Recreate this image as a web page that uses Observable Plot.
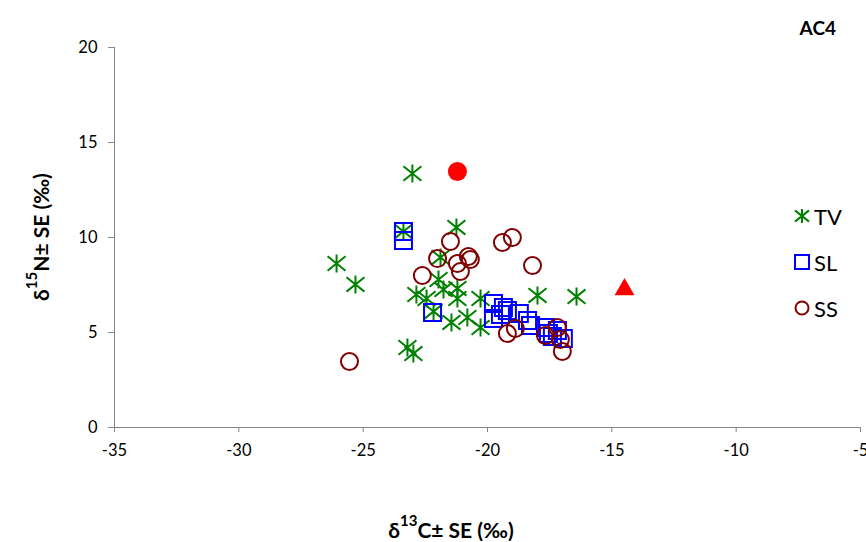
<!DOCTYPE html>
<html><head><meta charset="utf-8">
<script src="https://cdn.jsdelivr.net/npm/d3@7"></script>
<script src="https://cdn.jsdelivr.net/npm/@observablehq/plot@0.6"></script>
<style>body{margin:0;background:#fff}</style>
</head><body><div id="chart"></div>
<script>
// ---- data ----
const tvX = [-23.02,-23.38,-21.25,-26.07,-25.31,-21.89,-21.97,-21.77,-21.21,-22.86,-22.45,-21.21,-20.28,-22.17,-21.45,-20.81,-20.28,-17.99,-16.42,-23.22,-22.98];
const tvY = [13.37,10.32,10.53,8.63,7.53,8.95,7.79,7.26,7.32,7.0,6.79,6.79,6.79,6.11,5.53,5.79,5.26,6.95,6.89,4.21,3.89];
const slX = [-23.38,-23.38,-22.21,-19.76,-19.76,-19.36,-19.48,-19.2,-18.72,-18.39,-18.27,-17.67,-17.55,-17.39,-17.19,-16.95];
const slY = [10.32,9.84,6.05,6.53,5.74,6.32,5.95,6.16,6.0,5.63,5.37,5.26,4.95,4.79,5.11,4.68];
const ssX = [-25.55,-22.62,-22.01,-21.49,-21.21,-21.09,-20.77,-20.69,-19.4,-19.0,-18.19,-19.2,-18.88,-17.67,-17.19,-17.07,-16.99];
const ssY = [3.47,8.0,8.89,9.79,8.63,8.21,9.0,8.84,9.74,10.0,8.53,4.95,5.21,4.84,5.26,4.63,4.0];
const redCircleX = [-21.21], redCircleY = [13.47];
const redTriangleX = [-14.49], redTriangleY = [7.26];
const xTicks = [-35,-30,-25,-20,-15,-10,-5];
const yTicks = [0,5,10,15,20];
const seriesNames = ["TV","SL","SS"];
const title = "AC4";

const pts = (xs, ys) => xs.map((x, i) => ({x, y: ys[i]}));

const excelStar = {draw(ctx, size){
  const r = Math.sqrt(size / Math.PI);
  ctx.moveTo(0, -r); ctx.lineTo(0, r);
  ctx.moveTo(-r, -0.8*r); ctx.lineTo(r, 0.8*r);
  ctx.moveTo(-r, 0.8*r); ctx.lineTo(r, -0.8*r);
}};

const axisGray = "#868686";
const font = "Lato, 'Open Sans', sans-serif";
const plot = Plot.plot({
  width: 866, height: 542,
  marginLeft: 114, marginRight: 6, marginTop: 47, marginBottom: 115,
  style: {fontFamily: font, fontSize: "16px", background: "#fff"},
  x: {domain: [-35, -5], ticks: xTicks},
  y: {domain: [0, 20], ticks: yTicks},
  marks: [
    Plot.ruleY([0], {stroke: axisGray, strokeWidth: 1}),
    Plot.ruleX([-35], {stroke: axisGray, strokeWidth: 1}),
    Plot.axisX({ticks: xTicks, tickSize: 5, tickPadding: 12, tickFormat: d => String(d), stroke: axisGray, fill: "#000", label: null, fontSize: 16.5}),
    Plot.axisY({ticks: yTicks, tickSize: 6, tickPadding: 11, tickFormat: d => String(d), stroke: axisGray, fill: "#000", label: null, fontSize: 16.5}),
    Plot.dot(pts(tvX, tvY), {x: "x", y: "y", symbol: excelStar, r: 9, stroke: "#008000", strokeWidth: 2, fill: "none"}),
    Plot.dot(pts(slX, slY), {x: "x", y: "y", symbol: "square", r: 9.6, stroke: "#0000ff", strokeWidth: 2, fill: "none"}),
    Plot.dot(pts(ssX, ssY), {x: "x", y: "y", symbol: "circle", r: 8.5, stroke: "#800000", strokeWidth: 2, fill: "none"}),
    Plot.dot(pts(redCircleX, redCircleY), {x: "x", y: "y", symbol: "circle", r: 9.5, fill: "#ff0000", stroke: "none"}),
    Plot.dot(pts(redTriangleX, redTriangleY), {x: "x", y: "y", symbol: "triangle", r: 7.4, fill: "#ff0000", stroke: "none"})
  ]
});
document.getElementById("chart").appendChild(plot);

const svg = d3.select(plot);
// y title
const yt = svg.append("text")
  .attr("transform", "translate(40,237) rotate(-90)")
  .attr("text-anchor", "middle").attr("dominant-baseline", "central")
  .style("font-family", font).style("font-size", "21px").style("font-weight", "bold").attr("fill", "#000");
yt.append("tspan").text("δ");
yt.append("tspan").attr("baseline-shift", "super").style("font-size", "15px").text("15");
yt.append("tspan").text("N± SE (‰)");
// x title
const xt = svg.append("text")
  .attr("x", 451).attr("y", 529)
  .attr("text-anchor", "middle").attr("dominant-baseline", "central")
  .style("font-family", font).style("font-size", "21px").style("font-weight", "bold").attr("fill", "#000");
xt.append("tspan").text("δ");
xt.append("tspan").attr("baseline-shift", "super").style("font-size", "15px").text("13");
xt.append("tspan").text("C± SE (‰)");
// chart label
svg.append("text").attr("x", 836).attr("y", 27).attr("text-anchor", "end").attr("dominant-baseline", "central")
  .style("font-family", font).style("font-size", "19px").style("font-weight", "bold").attr("fill", "#000").text(title);
// legend
const legendItems = [
  {name: seriesNames[0], sym: excelStar, size: Math.PI*7*7, stroke: "#008000"},
  {name: seriesNames[1], sym: d3.symbolSquare, size: 14*14, stroke: "#0000ff"},
  {name: seriesNames[2], sym: d3.symbolCircle, size: Math.PI*6.5*6.5, stroke: "#800000"}
];
const legendY = [216, 262, 308];
legendItems.forEach((it, i) => {
  const g = svg.append("g").attr("transform", `translate(802,${legendY[i]})`);
  g.append("path").attr("d", d3.symbol(it.sym, it.size)()).attr("fill", "none").attr("stroke", it.stroke).attr("stroke-width", 2);
  g.append("text").attr("x", 12).attr("text-anchor", "start").attr("dominant-baseline", "central")
    .style("font-family", font).style("font-size", "22px").attr("fill", "#000").text(it.name);
});
</script>
</body></html>
